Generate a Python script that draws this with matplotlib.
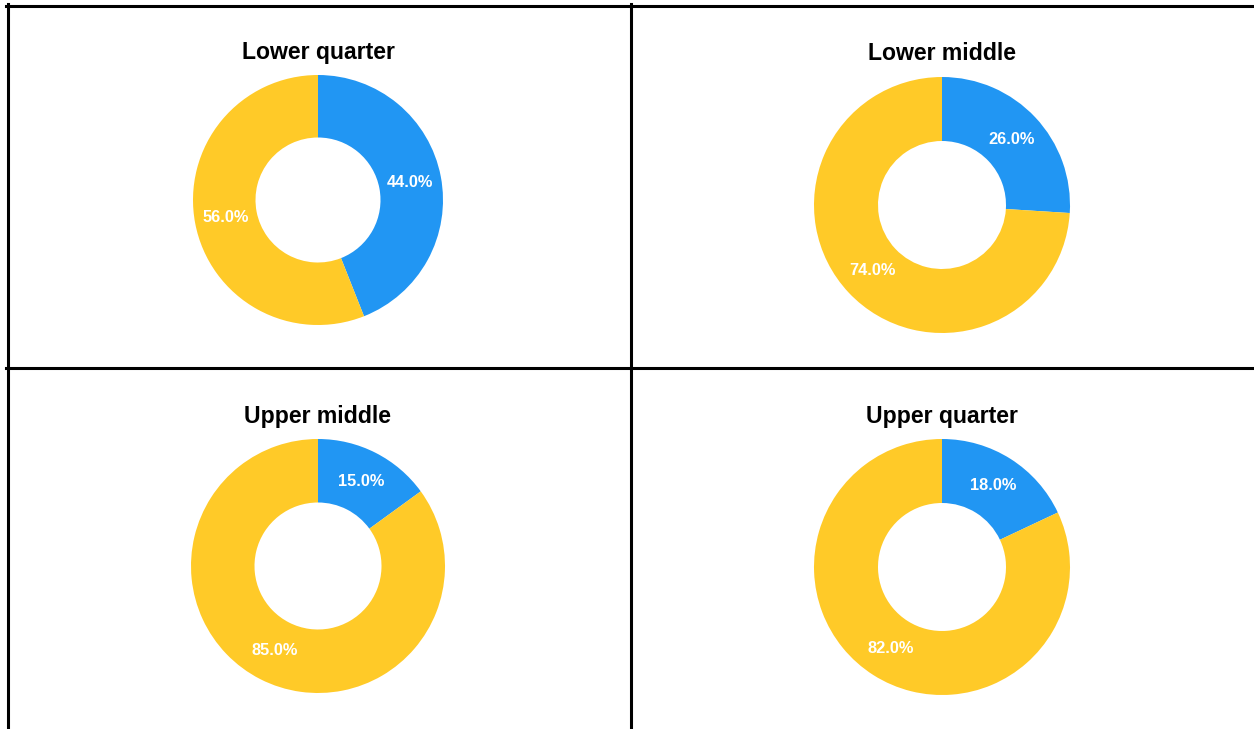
import matplotlib
matplotlib.use('Agg')
import matplotlib.pyplot as plt
from matplotlib.lines import Line2D

# ---------------- data ----------------
titles = ['Lower quarter', 'Lower middle', 'Upper middle', 'Upper quarter']
blue_share = [44.0, 26.0, 15.0, 18.0]
yellow_share = [56.0, 74.0, 85.0, 82.0]
colors = ['#2196F3', '#FFCA28']

plt.rcParams['font.family'] = ['Liberation Sans', 'DejaVu Sans']

W, H = 1254, 729
fig = plt.figure(figsize=(W / 100, H / 100), dpi=100)
fig.patch.set_facecolor('white')

# pie centers / radius in pixels (from top-left)
centers = [(318, 200), (942, 205), (318, 566), (942, 567)]
radii = [125, 128, 127, 128]
title_y = [53, 54, 417, 417]

for i in range(4):
    cx, cy = centers[i]
    R = radii[i]
    ax = fig.add_axes([(cx - R) / W, 1 - (cy + R) / H, 2 * R / W, 2 * R / H])
    wedges, texts, autotexts = ax.pie(
        [blue_share[i], yellow_share[i]], colors=colors, startangle=90,
        counterclock=False, radius=1, autopct='%.1f%%', pctdistance=0.75,
        wedgeprops=dict(width=0.5, linewidth=0),
        textprops=dict(color='white', fontsize=11.8, fontweight='bold'))
    ax.set_xlim(-1, 1)
    ax.set_ylim(-1, 1)
    ax.set_aspect('equal')
    ax.axis('off')
    fig.text(cx / W, 1 - title_y[i] / H, titles[i], ha='center', va='center',
             fontsize=16.6, fontweight='bold', color='black')

# table grid lines
def hline(y, x0, x1):
    fig.add_artist(Line2D([x0 / W, x1 / W], [1 - y / H, 1 - y / H],
                          color='black', linewidth=2.2, transform=fig.transFigure))

def vline(x, y0, y1):
    fig.add_artist(Line2D([x / W, x / W], [1 - y0 / H, 1 - y1 / H],
                          color='black', linewidth=2.2, transform=fig.transFigure))

hline(5.5, 6, W)
hline(368, 6, W)
vline(7.5, 4, H)
vline(631, 4, H)

fig.savefig('out.png', dpi=100)
